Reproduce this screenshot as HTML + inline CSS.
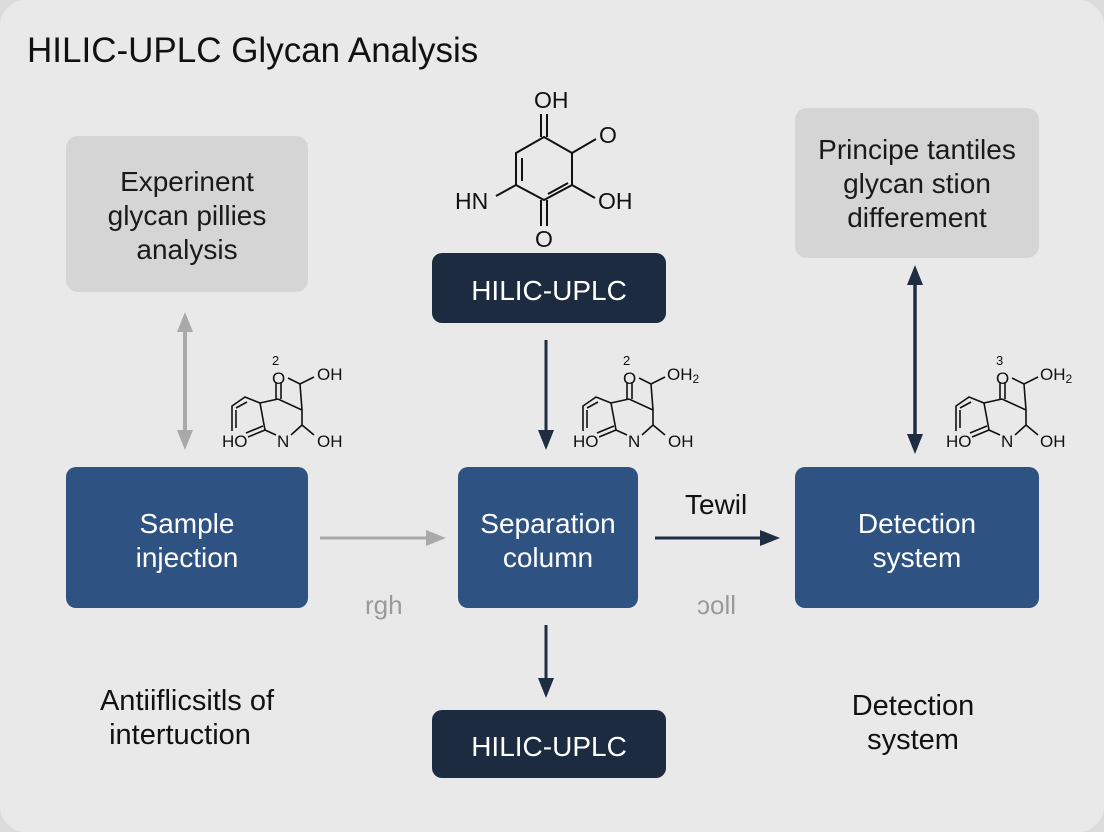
<!DOCTYPE html>
<html><head><meta charset="utf-8"><style>
html,body{margin:0;padding:0;background:#dcdcdc;}
svg{display:block;font-family:"Liberation Sans",Arial,sans-serif;}
</style></head><body>
<svg width="1104" height="832" viewBox="0 0 1104 832" xmlns="http://www.w3.org/2000/svg">
<defs>
<marker id="ad" markerWidth="20" markerHeight="20" refX="10" refY="10" orient="auto-start-reverse" markerUnits="userSpaceOnUse"><path d="M0,2 L20,10 L0,18 z" fill="#1e2d42"/></marker>
<marker id="ag2" markerWidth="20" markerHeight="20" refX="10" refY="10" orient="auto-start-reverse" markerUnits="userSpaceOnUse"><path d="M0,2 L20,10 L0,18 z" fill="#a9a9a9"/></marker>
<g id="mol" fill="none" stroke="#111" stroke-width="1.6">
<path d="M276,382 L276,399 M281,382 L281,399"/>
<path d="M278,399 L302,410 L302,425 L314,435 M302,425 L291,435 M276,435 L265,430 L248,437 M263,426 L246,433"/>
<path d="M265,430 L260,403 L278,399 M288,378 L300,384 L314,377 M300,384 L302,410"/>
<path d="M260,403 L245,397 L232,406 L232,431 M247,402 L236,408 M236,410 L236,428"/>
</g>
</defs>
<rect x="0" y="0" width="1104" height="832" rx="26" fill="#e9e9e9"/>
<text x="27" y="62" font-size="35" fill="#111">HILIC-UPLC Glycan Analysis</text>

<rect x="66" y="136" width="242" height="156" rx="12" fill="#d5d5d5"/>
<text text-anchor="middle" font-size="28" fill="#1a1a1a"><tspan x="187" y="191">Experinent</tspan><tspan x="187" y="225">glycan pillies</tspan><tspan x="187" y="259">analysis</tspan></text>
<rect x="795" y="108" width="244" height="150" rx="12" fill="#d5d5d5"/>
<text text-anchor="middle" font-size="28" fill="#1a1a1a"><tspan x="917" y="159">Principe tantiles</tspan><tspan x="917" y="193">glycan stion</tspan><tspan x="917" y="227">differement</tspan></text>

<g fill="none" stroke="#111" stroke-width="2">
<path d="M544,137 L572,153 L572,185 L544,200 L516,185 L516,153 Z"/>
<path d="M522,158 L522,181 M548,194 L568,183"/>
<path d="M541,137 L541,114 M547,137 L547,114"/>
<path d="M541,200 L541,226 M547,200 L547,226"/>
<path d="M572,153 L596,139 M572,185 L595,198 M516,185 L496,196"/>
</g>
<g font-size="23" fill="#111"><text x="534" y="108">OH</text><text x="599" y="143">O</text><text x="598" y="209">OH</text><text x="455" y="209">HN</text><text x="535" y="247">O</text></g>

<rect x="432" y="253" width="234" height="70" rx="10" fill="#1d2b40"/>
<text x="549" y="300" text-anchor="middle" font-size="28" fill="#fff">HILIC-UPLC</text>
<rect x="432" y="710" width="234" height="68" rx="10" fill="#1d2b40"/>
<text x="549" y="756" text-anchor="middle" font-size="28" fill="#fff">HILIC-UPLC</text>

<use href="#mol"/>
<g font-size="17" fill="#111"><text x="272" y="365" font-size="13">2</text><text x="272" y="384">O</text><text x="317" y="380">OH</text><text x="222" y="447">HO</text><text x="277" y="447">N</text><text x="317" y="447">OH</text></g>
<g transform="translate(351,0)"><use href="#mol"/></g>
<g font-size="17" fill="#111"><text x="623" y="365" font-size="13">2</text><text x="623" y="384">O</text><text x="667" y="380">OH<tspan font-size="12" dy="3">2</tspan></text><text x="573" y="447">HO</text><text x="628" y="447">N</text><text x="668" y="447">OH</text></g>
<g transform="translate(724,0)"><use href="#mol"/></g>
<g font-size="17" fill="#111"><text x="996" y="365" font-size="13">3</text><text x="996" y="384">O</text><text x="1040" y="380">OH<tspan font-size="12" dy="3">2</tspan></text><text x="946" y="447">HO</text><text x="1001" y="447">N</text><text x="1040" y="447">OH</text></g>

<rect x="66" y="467" width="242" height="141" rx="10" fill="#2e5282"/>
<text text-anchor="middle" font-size="28" fill="#fff"><tspan x="187" y="533">Sample</tspan><tspan x="187" y="567">injection</tspan></text>
<rect x="458" y="467" width="180" height="141" rx="10" fill="#2e5282"/>
<text text-anchor="middle" font-size="28" fill="#fff"><tspan x="548" y="533">Separation</tspan><tspan x="548" y="567">column</tspan></text>
<rect x="795" y="467" width="244" height="141" rx="10" fill="#2e5282"/>
<text text-anchor="middle" font-size="28" fill="#fff"><tspan x="917" y="533">Detection</tspan><tspan x="917" y="567">system</tspan></text>

<line x1="185" y1="322" x2="185" y2="440" stroke="#a9a9a9" stroke-width="4" marker-start="url(#ag2)" marker-end="url(#ag2)"/>
<line x1="546" y1="340" x2="546" y2="440" stroke="#1e2d42" stroke-width="3" marker-end="url(#ad)"/>
<line x1="915" y1="275" x2="915" y2="444" stroke="#1e2d42" stroke-width="3.5" marker-start="url(#ad)" marker-end="url(#ad)"/>
<line x1="320" y1="538" x2="436" y2="538" stroke="#a9a9a9" stroke-width="3" marker-end="url(#ag2)"/>
<line x1="655" y1="538" x2="770" y2="538" stroke="#1e2d42" stroke-width="3" marker-end="url(#ad)"/>
<line x1="546" y1="625" x2="546" y2="688" stroke="#1e2d42" stroke-width="3" marker-end="url(#ad)"/>

<text x="685" y="514" font-size="28" fill="#111">Tewil</text>
<text x="365" y="614" font-size="26" fill="#9a9a9a">rgh</text>
<text x="697" y="614" font-size="26" fill="#9a9a9a">ɔoll</text>

<text text-anchor="middle" font-size="29" fill="#111"><tspan x="187" y="710">Antiiflicsitls of</tspan><tspan x="180" y="744">intertuction</tspan></text>
<text text-anchor="middle" font-size="29" fill="#111"><tspan x="913" y="715">Detection</tspan><tspan x="913" y="749">system</tspan></text>
</svg>
</body></html>
